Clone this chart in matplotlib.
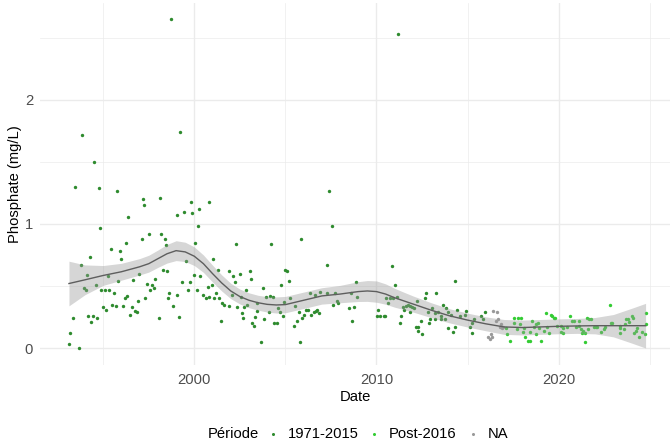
import numpy as np
import matplotlib
matplotlib.use("Agg")
import matplotlib.pyplot as plt
from matplotlib.ticker import MultipleLocator, FuncFormatter

plt.rcParams['font.family'] = ['Liberation Sans', 'DejaVu Sans']

# Phosphate samples (decimal year, mg/L), split by period
dates_1971_2015 = [
    1993.44, 1994.77, 1995.76, 1997.17, 1998.13, 1997.26, 1996.38, 1994.82, 1998.19, 1997.50,
    1997.11, 1998.39, 1996.27, 1995.43, 1995.94, 1998.46, 1994.26, 1996.00, 1993.80, 1994.13,
    1998.30, 1998.52, 1996.98, 1997.86, 1996.64, 1995.81, 1997.42, 1997.68, 1994.59, 1995.28,
    1997.79, 1997.57, 1993.97, 1994.04, 1994.90, 1995.08, 1995.34, 1995.58, 1998.63, 1998.57,
    1996.32, 1996.18, 1997.31, 1996.93, 1995.50, 1995.69, 1996.07, 1996.56, 1995.00, 1995.15,
    1996.75, 1996.87, 1996.49, 1994.18, 1994.44, 1994.66, 1994.33, 1993.36, 1998.08, 1993.20,
    1993.12, 1993.69,
    1998.72, 1993.86, 1999.23, 1994.51, 2000.81, 1999.80, 1999.42, 1999.89, 2000.24, 1999.07,
    2007.41, 2011.16,
    2000.20, 2000.06, 2002.31, 2004.23, 1999.53, 2001.04, 2001.32, 2001.89, 2002.49, 2003.06,
    1999.97, 2000.31, 2002.12, 2003.13, 1999.34, 1999.75, 2002.23, 2000.95, 2000.74, 2003.75,
    2002.84, 1999.64, 2000.13, 1999.03, 2000.49, 2001.17, 2002.09, 2000.82, 2001.10, 2001.37,
    2000.63, 2003.94, 2004.14, 2004.34, 2002.56, 1998.83, 2001.50, 2001.65, 2001.92, 2002.36,
    2002.74, 2002.89, 2003.44, 2003.44, 2002.63, 2004.10, 1999.16, 2002.67, 2003.33, 2003.84,
    2001.45, 2003.18, 2003.26, 2004.37, 2003.68,
    2007.57, 2005.86, 2007.26, 2004.99, 2005.07, 2005.20, 2004.78, 2008.86, 2006.90, 2006.37,
    2006.62, 2007.27, 2007.74, 2008.62, 2008.94, 2005.27, 2004.92, 2007.82, 2007.91, 2007.61,
    2005.54, 2004.61, 2006.11, 2006.24, 2006.73, 2008.51, 2008.78, 2006.66, 2006.55, 2006.83,
    2006.42, 2005.73, 2006.04, 2004.69, 2004.87, 2005.91, 2005.62, 2008.67, 2004.56, 2005.47,
    2005.78,
    2010.87, 2011.03, 2014.32, 2012.73, 2013.27, 2010.52, 2010.72, 2010.89, 2011.12, 2012.21,
    2012.66, 2010.65, 2011.47, 2011.60, 2011.71, 2011.84, 2011.97, 2012.08, 2011.53, 2013.67,
    2010.10, 2012.82, 2013.03, 2013.36, 2013.81, 2013.91, 2014.43, 2014.89, 2011.84, 2010.03,
    2010.18, 2010.40, 2010.47, 2011.34, 2013.23, 2013.52, 2014.09, 2014.60, 2014.86, 2012.92,
    2013.21, 2013.52, 2013.76, 2012.44, 2012.87, 2011.27, 2012.15, 2012.30, 2013.91, 2014.29,
    2015.26, 2015.13, 2012.30, 2012.51, 2014.20, 2015.26, 2015.37, 2015.95, 2015.74, 2015.87,
]
phos_1971_2015 = [
    1.30, 1.29, 1.27, 1.20, 1.21, 1.15, 1.06, 0.97, 0.92, 0.92,
    0.88, 0.88, 0.85, 0.80, 0.78, 0.83, 0.73, 0.72, 0.67, 0.59,
    0.63, 0.62, 0.60, 0.56, 0.55, 0.54, 0.52, 0.51, 0.51, 0.58,
    0.48, 0.47, 0.48, 0.47, 0.47, 0.47, 0.47, 0.44, 0.44, 0.40,
    0.42, 0.40, 0.40, 0.38, 0.35, 0.34, 0.34, 0.33, 0.33, 0.31,
    0.30, 0.29, 0.27, 0.26, 0.26, 0.24, 0.21, 0.24, 0.24, 0.12,
    0.03, 0.00,
    2.65, 1.72, 1.74, 1.50, 1.18, 1.18, 1.10, 1.09, 1.12, 1.07,
    1.27, 2.53,
    0.98, 0.85, 0.84, 0.84, 0.70, 0.72, 0.63, 0.62, 0.60, 0.62,
    0.59, 0.58, 0.58, 0.56, 0.53, 0.53, 0.53, 0.51, 0.49, 0.48,
    0.47, 0.47, 0.47, 0.43, 0.43, 0.44, 0.43, 0.41, 0.40, 0.40,
    0.40, 0.41, 0.42, 0.41, 0.41, 0.34, 0.36, 0.35, 0.34, 0.33,
    0.33, 0.35, 0.36, 0.30, 0.28, 0.29, 0.25, 0.24, 0.25, 0.23,
    0.22, 0.20, 0.18, 0.20, 0.05,
    0.98, 0.88, 0.67, 0.63, 0.62, 0.54, 0.51, 0.53, 0.45, 0.44,
    0.43, 0.44, 0.44, 0.44, 0.41, 0.40, 0.37, 0.38, 0.36, 0.35,
    0.34, 0.32, 0.31, 0.31, 0.31, 0.32, 0.33, 0.30, 0.29, 0.28,
    0.27, 0.29, 0.27, 0.29, 0.26, 0.24, 0.22, 0.22, 0.20, 0.18,
    0.05,
    0.66, 0.51, 0.54, 0.44, 0.44, 0.40, 0.40, 0.40, 0.41, 0.38,
    0.40, 0.36, 0.33, 0.34, 0.35, 0.34, 0.33, 0.32, 0.31, 0.35,
    0.31, 0.29, 0.32, 0.29, 0.32, 0.29, 0.31, 0.30, 0.29, 0.26,
    0.26, 0.26, 0.26, 0.26, 0.28, 0.26, 0.27, 0.26, 0.27, 0.23,
    0.23, 0.23, 0.23, 0.22, 0.20, 0.20, 0.17, 0.17, 0.16, 0.17,
    0.20, 0.17, 0.14, 0.11, 0.13, 0.12, 0.23, 0.29, 0.26, 0.23,
]

dates_post2016 = [
    2017.09, 2017.18, 2017.32, 2017.56, 2017.77, 2017.95, 2017.56, 2017.88, 2017.71, 2018.11,
    2018.06, 2018.13, 2018.30, 2018.41, 2018.42, 2018.55, 2018.64, 2018.74, 2018.86, 2018.90,
    2018.75, 2019.03, 2019.21, 2019.30, 2019.56, 2019.65, 2019.73, 2019.80, 2019.48, 2019.36,
    2019.91, 2020.13, 2020.25, 2020.44, 2020.14, 2020.25, 2020.64, 2020.73, 2020.83, 2021.10,
    2021.13, 2020.97, 2021.24, 2021.26, 2021.57, 2021.65, 2021.44, 2021.62, 2022.82, 2021.77,
    2021.94, 2022.03, 2022.12, 2021.35, 2021.46, 2022.46, 2022.54, 2022.32, 2022.87, 2022.93,
    2023.37, 2023.37, 2023.39, 2023.61, 2023.68, 2023.81, 2023.87, 2024.00, 2024.07, 2024.31,
    2024.25, 2024.16, 2024.40, 2024.58, 2024.76, 2024.77, 2024.77, 2023.65,
]
phos_post2016 = [
    0.16, 0.11, 0.06, 0.24, 0.24, 0.24, 0.20, 0.19, 0.15, 0.16,
    0.13, 0.09, 0.06, 0.06, 0.13, 0.22, 0.17, 0.19, 0.20, 0.16,
    0.11, 0.06, 0.14, 0.28, 0.27, 0.26, 0.24, 0.24, 0.12, 0.17,
    0.18, 0.18, 0.16, 0.17, 0.13, 0.12, 0.26, 0.22, 0.22, 0.22,
    0.18, 0.17, 0.15, 0.12, 0.24, 0.23, 0.05, 0.15, 0.35, 0.23,
    0.17, 0.17, 0.17, 0.14, 0.12, 0.15, 0.17, 0.13, 0.20, 0.20,
    0.18, 0.16, 0.12, 0.15, 0.23, 0.23, 0.21, 0.26, 0.24, 0.16,
    0.14, 0.12, 0.09, 0.13, 0.11, 0.28, 0.19, 0.19,
]

dates_na = [2016.41, 2016.63, 2016.54, 2016.69, 2016.82, 2016.93,
            2016.78, 2016.89, 2016.27, 2016.36, 2016.14, 2016.21]
phos_na = [0.30, 0.29, 0.22, 0.23, 0.19, 0.17, 0.17, 0.16, 0.11, 0.09, 0.09, 0.07]

# smoothed trend and half-width of its confidence band
smooth_dates = [1993.12, 1994, 1995, 1996, 1997, 1997.5, 1998, 1998.5, 1999, 1999.5,
                2000, 2000.5, 2001, 2001.5, 2002, 2002.5, 2003, 2003.5, 2004, 2004.5,
                2005, 2006, 2007, 2008, 2009, 2009.5, 2010, 2010.5, 2011, 2011.5,
                2012, 2013, 2014, 2015, 2016, 2017, 2018, 2019, 2020, 2021,
                2022, 2023, 2024, 2024.77]
smooth_fit = [0.52, 0.55, 0.585, 0.615, 0.655, 0.68, 0.72, 0.76, 0.785, 0.775,
              0.74, 0.68, 0.60, 0.525, 0.46, 0.415, 0.385, 0.365, 0.352, 0.347,
              0.35, 0.385, 0.42, 0.435, 0.455, 0.46, 0.455, 0.435, 0.405, 0.38,
              0.355, 0.305, 0.26, 0.225, 0.195, 0.17, 0.165, 0.17, 0.175, 0.178,
              0.18, 0.18, 0.18, 0.18]
smooth_se = [0.18, 0.12, 0.08, 0.068, 0.066, 0.068, 0.07, 0.075, 0.08, 0.078,
             0.075, 0.07, 0.068, 0.065, 0.062, 0.06, 0.06, 0.06, 0.062, 0.065,
             0.066, 0.066, 0.066, 0.07, 0.08, 0.084, 0.086, 0.082, 0.076, 0.07,
             0.065, 0.06, 0.057, 0.056, 0.056, 0.06, 0.06, 0.06, 0.06, 0.06,
             0.066, 0.09, 0.14, 0.18]

col_old = '#2E8B2E'
col_new = '#33CC33'
col_na = '#999999'

fig = plt.figure(figsize=(6.7, 4.46), dpi=100)
ax = fig.add_axes([40 / 670, 1 - 365 / 446, 630 / 670, 362 / 446])

pt = 6
ax.scatter(dates_1971_2015, phos_1971_2015, s=pt, color=col_old, linewidths=0, zorder=2)
ax.scatter(dates_post2016, phos_post2016, s=pt, color=col_new, linewidths=0, zorder=2)
ax.scatter(dates_na, phos_na, s=pt, color=col_na, linewidths=0, zorder=2)

fit = np.array(smooth_fit)
se = np.array(smooth_se)
ax.fill_between(smooth_dates, fit - se, fit + se, color='#999999', alpha=0.4,
                linewidth=0, zorder=3)
ax.plot(smooth_dates, fit, color='#5E5E5E', linewidth=1.0, zorder=4,
        solid_joinstyle='round')

ax.set_xlim(1991.53, 2026.11)
ax.set_ylim(-0.137, 2.782)
ax.xaxis.set_major_locator(MultipleLocator(10))
ax.xaxis.set_minor_locator(MultipleLocator(5))
ax.yaxis.set_major_locator(MultipleLocator(1))
ax.yaxis.set_minor_locator(MultipleLocator(0.5))
ax.xaxis.set_major_formatter(FuncFormatter(lambda v, p: f"{int(v)}"))
ax.grid(which='major', color='#EBEBEB', linewidth=1.0, zorder=0)
ax.grid(which='minor', color='#EBEBEB', linewidth=0.5, zorder=0)
ax.set_axisbelow(True)
for s in ax.spines.values():
    s.set_visible(False)
ax.tick_params(which='both', length=0, labelsize=10.6, labelcolor='#4D4D4D')
ax.tick_params(axis='x', pad=6)
ax.tick_params(axis='y', pad=5)

ax.set_xlabel('Date', fontsize=10.6, labelpad=2)
ax.set_ylabel('Phosphate (mg/L)', fontsize=10.6, labelpad=2)

# legend at the bottom, laid out horizontally
ly = 1 - 434 / 446
fig.text(208 / 670, ly, 'Période', fontsize=10.6, va='center', ha='left')
for xd, c, lab in [(273, col_old, '1971-2015'), (374, col_new, 'Post-2016'), (473, col_na, 'NA')]:
    fig.add_artist(plt.Line2D([xd / 670], [ly], marker='o', markersize=2.2, color=c,
                              markeredgewidth=0, transform=fig.transFigure))
    fig.text((xd + 15) / 670, ly, lab, fontsize=10.6, va='center', ha='left')

fig.savefig('out.png', dpi=100)
